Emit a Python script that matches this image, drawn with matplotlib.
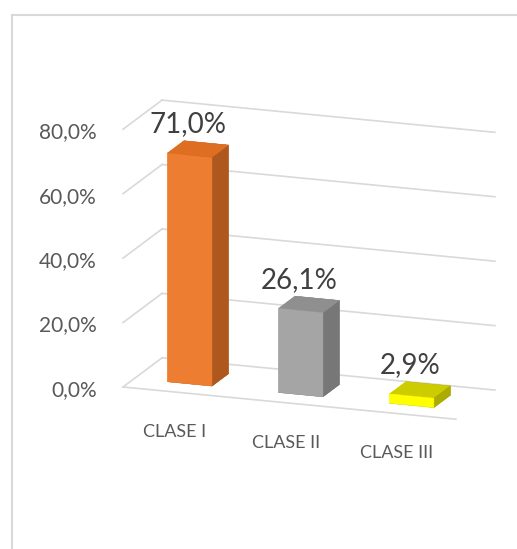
import matplotlib
matplotlib.use('Agg')
import matplotlib.pyplot as plt
import numpy as np
from matplotlib.lines import Line2D
from matplotlib.transforms import offset_copy

categories = ['CLASE I', 'CLASE II', 'CLASE III']
values = [0.710, 0.261, 0.029]
value_labels = ['71,0%', '26,1%', '2,9%']
ticks = [0.0, 0.2, 0.4, 0.6, 0.8]
tick_labels = ['0,0%', '20,0%', '40,0%', '60,0%', '80,0%']

# colours of the front, top and right side of each bar
front_colors = ['#ED7D31', '#A5A5A5', '#FFFF00']
top_colors = ['#DD6E22', '#8F8F8F', '#CCCC00']
side_colors = ['#AE581E', '#777777', '#ABAB00']

W, H = 517, 549
plt.rcParams['font.family'] = ['Lato', 'DejaVu Sans']

fig = plt.figure(figsize=(W / 100, H / 100), dpi=100)
ax = fig.add_axes([0, 0, 1, 1], projection='3d', computed_zorder=False)
ax.set_proj_type('ortho')
ax.view_init(elev=15.6, azim=-70.2)
ax.set_box_aspect((353, 115, 267))
n = len(categories)
ax.set_xlim(0, n)
ax.set_ylim(0, 1)
ax.set_zlim(0, ticks[-1])
ax.set_axis_off()
# hide the empty title / axis texts so nothing sits off the canvas
for t in (ax.title, ax._left_title, ax._right_title):
    t.set_visible(False)
for a in (ax.xaxis, ax.yaxis, ax.zaxis):
    a.set_visible(False)

# gridlines on back wall and left wall, plus the floor front edge
grid = '#D9D9D9'
for t in ticks:
    ax.plot([0, n], [1, 1], [t, t], color=grid, lw=1.2, zorder=1)
    ax.plot([0, 0], [0, 1], [t, t], color=grid, lw=1.2, zorder=1)
ax.plot([0, n], [0, 0], [0, 0], color=grid, lw=1.2, zorder=1)

bw, bd = 0.4, 0.42
y0 = 0.5 - bd / 2
for i, v in enumerate(values):
    # bar3d face order: bottom, top, front, back, left, right
    cols = [side_colors[i], top_colors[i], front_colors[i],
            side_colors[i], front_colors[i], side_colors[i]]
    ax.bar3d(i + 0.5 - bw / 2, y0, 0, bw, bd, v, color=cols, shade=False,
             edgecolor=cols, linewidth=0.3, zorder=3 + i)

# value labels above the front top edge
for i, v in enumerate(values):
    tr = offset_copy(ax.transData, fig=fig, x=-2, y=23, units='dots')
    ax.text(i + 0.5, y0, v, value_labels[i], ha='center', va='baseline',
            fontsize=20, color='#404040', transform=tr, zorder=10)

# tick labels at the front of the left wall
for t, lab in zip(ticks, tick_labels):
    tr = offset_copy(ax.transData, fig=fig, x=-26, y=-9, units='dots')
    ax.text(0, 0, t, lab, ha='right', va='baseline', fontsize=15,
            color='#595959', transform=tr, zorder=10)

# category labels under the floor
for i, cat in enumerate(categories):
    tr = offset_copy(ax.transData, fig=fig, x=-3.5, y=-44.5, units='dots')
    ax.text(i + 0.5, 0, 0, cat, ha='center', va='baseline', fontsize=13,
            color='#595959', transform=tr, zorder=10)

# chart area border (left and top edges visible)
bx, by = 11.5 / W, 1 - 14.5 / H
fig.add_artist(Line2D([bx, bx], [0, by], color='#D9D9D9', lw=1.5,
                      solid_capstyle='projecting'))
fig.add_artist(Line2D([bx, 1], [by, by], color='#D9D9D9', lw=1.5,
                      solid_capstyle='projecting'))

# fit the projected box onto the picture: floor front-left and back top-right
fig.canvas.draw()


def to_display(x, y, z):
    v = ax.get_proj() @ np.array([x, y, z, 1.0])
    return ax.transData.transform((v[0] / v[3], v[1] / v[3]))


p1 = to_display(0, 0, 0)
p2 = to_display(n, 1, ticks[-1])
t1 = np.array([123.0, H - 387.0])
t2 = np.array([494.0, H - 131.0])
s = np.linalg.norm(t2 - t1) / np.linalg.norm(p2 - p1)
bb = ax.get_position().transformed(fig.transFigure)
o = t1 - s * (p1 - np.array([bb.x0, bb.y0]))
ax.set_position([o[0] / W, o[1] / H, s * bb.width / W, s * bb.height / H])

fig.savefig('out.png', dpi=100)
